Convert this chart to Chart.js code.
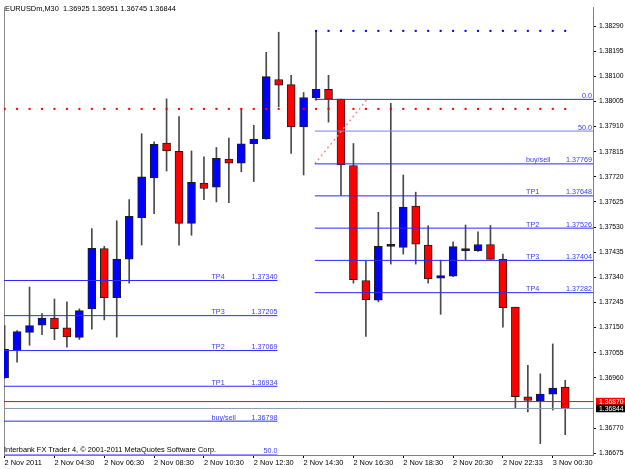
<!DOCTYPE html>
<html>
<head>
<meta charset="utf-8">
<script src="https://cdn.jsdelivr.net/npm/chart.js@4.4.1/dist/chart.umd.min.js"></script>
<style>
  html, body { margin: 0; padding: 0; background: #fff; }
</style>
</head>
<body>
<canvas id="chart" width="625" height="469"></canvas>
<script>
// EURUSDm M30 candles, one entry per bar
var opens  = [1.36960,1.37064,1.37132,1.37159,1.37186,1.37149,1.37113,1.37220,1.37449,1.37263,
              1.37409,1.37566,1.37716,1.37848,1.37816,1.37544,1.37696,1.37681,1.37787,1.37772,
              1.37845,1.37863,1.38088,1.38069,1.37909,1.38018,1.38051,1.38014,1.37763,1.37328,
              1.37254,1.37457,1.37453,1.37609,1.37462,1.37337,1.37344,1.37441,1.37441,1.37464,
              1.37408,1.37227,1.36888,1.36872,1.36898,1.36925];
var highs  = [1.37157,1.37139,1.37303,1.37203,1.37258,1.37247,1.37221,1.37524,1.37457,1.37554,
              1.37634,1.37883,1.37852,1.38015,1.37948,1.37818,1.37796,1.37831,1.37867,1.37978,
              1.37915,1.38191,1.38267,1.38104,1.38039,1.38272,1.38104,1.38014,1.37846,1.37401,
              1.37586,1.37998,1.37727,1.37662,1.37535,1.37405,1.37474,1.37538,1.37512,1.37536,
              1.37428,1.37227,1.37007,1.36975,1.37088,1.36951];
var lows   = [1.36958,1.37019,1.37083,1.37123,1.37104,1.37076,1.37105,1.37144,1.37179,1.37114,
              1.37318,1.37462,1.37581,1.37742,1.37462,1.37499,1.37634,1.37625,1.37622,1.37739,
              1.37702,1.37862,1.37985,1.37809,1.37727,1.38010,1.37927,1.37650,1.37318,1.37116,
              1.37247,1.37390,1.37428,1.37390,1.37318,1.37200,1.37342,1.37407,1.37438,1.37408,
              1.37151,1.36844,1.36831,1.36711,1.36838,1.36745];
var closes = [1.37068,1.37135,1.37157,1.37186,1.37146,1.37115,1.37214,1.37450,1.37263,1.37409,
              1.37571,1.37720,1.37843,1.37818,1.37544,1.37699,1.37676,1.37790,1.37772,1.37845,
              1.37863,1.38099,1.38067,1.37909,1.38020,1.38051,1.38013,1.37765,1.37331,1.37255,
              1.37457,1.37457,1.37606,1.37465,1.37334,1.37347,1.37456,1.37441,1.37464,1.37408,
              1.37225,1.36889,1.36874,1.36898,1.36921,1.36844];

var timeTickBars = [0,4,8,12,16,20,24,28,32,36,40,44];
var timeLabels = ["2 Nov 2011","2 Nov 04:30","2 Nov 06:30","2 Nov 08:30","2 Nov 10:30","2 Nov 12:30",
                  "2 Nov 14:30","2 Nov 16:30","2 Nov 18:30","2 Nov 20:30","2 Nov 22:33","3 Nov 00:30"];
var priceTicks = [1.38290,1.38195,1.38100,1.38005,1.37910,1.37815,1.37720,1.37625,1.37530,1.37435,
                  1.37340,1.37245,1.37150,1.37055,1.36960,1.36770,1.36675];

var askPrice = 1.36870;
var bidPrice = 1.36844;
var redDotLevel = 1.37977;
var blueDotLevel = 1.38272;
var blueDotFrom = 25;

// right fibo (0.0 / 50.0 / buy/sell / targets)
var fibRightLevels = [1.38013,1.37893,1.37769,1.37648,1.37526,1.37404,1.37282];
var fibRightNames  = ["","","buy/sell","TP1","TP2","TP3","TP4"];
var fibRightTexts  = ["0.0","50.0","1.37769","1.37648","1.37526","1.37404","1.37282"];
// left fibo
var fibLeftLevels = [1.37328,1.37195,1.37063,1.36928,1.36796,1.36669];
var fibLeftNames  = ["TP4","TP3","TP2","TP1","buy/sell",""];
var fibLeftTexts  = ["1.37340","1.37205","1.37069","1.36934","1.36798","50.0"];
var fibRightStart = 24.9, fibLeftEnd = 21.9;
var fibTrend = [{x:24.9, y:1.37769}, {x:29.1, y:1.38013}];

var titleText = "EURUSDm,M30  1.36925 1.36951 1.36745 1.36844";
var footText = "Interbank FX Trader 4, \u00a9 2001-2011 MetaQuotes Software Corp.";

var xMin = -0.05, xMax = 47.23;
var yMin = 1.36668, yMax = 1.38362;
var FONT = "Liberation Sans, Arial, sans-serif";

var barIdx = opens.map(function(o, i){ return i; });
var bodyColors = barIdx.map(function(i){
  if (closes[i] > opens[i]) return "#0000ff";
  if (closes[i] < opens[i]) return "#ff0000";
  return "#000000";
});

function levelLine(level, from, to, color, width, dash) {
  return {
    type: "line",
    data: [{x: from, y: level}, {x: to, y: level}],
    borderColor: color, borderWidth: width || 1, borderDash: dash || [],
    pointRadius: 0, order: 0
  };
}
function dotRow(level, from, color) {
  return {
    type: "line",
    data: barIdx.filter(function(i){ return i >= from; }).map(function(i){ return {x: i, y: level}; }),
    showLine: false, pointStyle: "rect", pointRadius: 1.45,
    pointBackgroundColor: color, pointBorderWidth: 0, order: 0
  };
}

var datasets = [];
fibRightLevels.forEach(function(lv, i){
  datasets.push(levelLine(lv, fibRightStart, xMax, i == 1 ? "#7a7aff" : "#2a2aff", 1));
});
fibLeftLevels.forEach(function(lv, i){
  datasets.push(levelLine(lv, xMin, fibLeftEnd, i == fibLeftLevels.length - 1 ? "#7a7aff" : "#2a2aff", 1));
});
datasets.push(levelLine(askPrice, xMin, xMax, "#ff0000", 1));
datasets.push(levelLine(bidPrice, xMin, xMax, "#8898ac", 1));
datasets.push({
  type: "line", data: fibTrend, borderColor: "#ff8c8c", borderWidth: 1.5,
  borderDash: [2, 3], pointRadius: 0, order: 0
});
datasets.push(dotRow(redDotLevel, 0, "#ff0000"));
datasets.push(dotRow(blueDotLevel, blueDotFrom, "#0000ff"));

// candle bodies then wicks (lower order is drawn on top)
datasets.push({
  type: "bar",
  data: barIdx.map(function(i){ return {x: i, y: [opens[i], closes[i]]}; }),
  backgroundColor: bodyColors, borderColor: "#1e1e1e", borderWidth: 1,
  borderSkipped: false, barThickness: 8, minBarLength: 2, grouped: false, order: 1
});
datasets.push({
  type: "bar",
  data: barIdx.map(function(i){ return {x: i, y: [lows[i], highs[i]]}; }),
  backgroundColor: "#4a4a4a", borderWidth: 0, barThickness: 1, grouped: false, order: 2
});

var textPlugin = {
  id: "textPlugin",
  afterDraw: function(chart){
    var ctx = chart.ctx, xs = chart.scales.x, ys = chart.scales.y, area = chart.chartArea;
    ctx.save();
    ctx.textBaseline = "alphabetic";
    ctx.font = "7.4px " + FONT;
    ctx.fillStyle = "#000";
    ctx.textAlign = "left";
    ctx.fillText(titleText, 5, 11);
    ctx.fillText(footText, 4, 452);

    ctx.font = "7.2px " + FONT;
    ctx.fillStyle = "#3a3aff";
    var rEnd = area.right - 1;
    fibRightLevels.forEach(function(lv, i){
      var y = ys.getPixelForValue(lv) - 1.5;
      ctx.textAlign = "right";
      ctx.fillText(fibRightTexts[i], rEnd, y);
      if (fibRightNames[i]) {
        ctx.textAlign = "left";
        ctx.fillText(fibRightNames[i], rEnd - 66, y);
      }
    });
    var lEnd = xs.getPixelForValue(fibLeftEnd);
    fibLeftLevels.forEach(function(lv, i){
      var y = Math.min(ys.getPixelForValue(lv) - 1.5, area.bottom - 2.5);
      ctx.textAlign = "right";
      ctx.fillText(fibLeftTexts[i], lEnd, y);
      if (fibLeftNames[i]) {
        ctx.textAlign = "left";
        ctx.fillText(fibLeftNames[i], lEnd - 66, y);
      }
    });

    // price boxes on the axis
    ctx.font = "6.8px " + FONT;
    ctx.textAlign = "left";
    ctx.textBaseline = "middle";
    [[askPrice, "#ff0000"], [bidPrice, "#000000"]].forEach(function(p){
      var y = ys.getPixelForValue(p[0]);
      ctx.fillStyle = p[1];
      ctx.fillRect(area.right + 3, y - 3.8, chart.width - area.right - 3, 7.6);
      ctx.fillStyle = "#fff";
      ctx.fillText(p[0].toFixed(5), area.right + 6, y + 0.3);
    });
    ctx.restore();
  }
};

new Chart(document.getElementById("chart"), {
  type: "bar",
  data: { datasets: datasets },
  options: {
    responsive: false,
    animation: false,
    devicePixelRatio: 1,
    layout: { padding: { top: 2, left: 0, right: 0, bottom: 0 } },
    plugins: { legend: { display: false }, tooltip: { enabled: false } },
    scales: {
      x: {
        type: "linear", min: xMin, max: xMax, offset: false,
        afterBuildTicks: function(axis){ axis.ticks = timeTickBars.map(function(v){ return {value: v}; }); },
        afterFit: function(axis){ axis.height = 14; },
        ticks: {
          align: "start", padding: 1, maxRotation: 0, autoSkip: false, color: "#000",
          font: { family: FONT, size: 7.4 },
          callback: function(v, i){ return timeLabels[i]; }
        },
        grid: { drawOnChartArea: false, drawTicks: true, tickLength: 3, color: "#000", offset: false },
        border: { color: "#808080" }
      },
      y: {
        position: "right", min: yMin, max: yMax,
        afterBuildTicks: function(axis){ axis.ticks = priceTicks.map(function(v){ return {value: v}; }); },
        afterFit: function(axis){ axis.width = 32; },
        ticks: {
          padding: 3, autoSkip: false, color: "#000",
          font: { family: FONT, size: 6.8 },
          callback: function(v){ return v.toFixed(5); }
        },
        grid: { drawOnChartArea: false, drawTicks: true, tickLength: 3, color: "#000" },
        border: { color: "#808080" }
      },
      yL: {
        position: "left", min: yMin, max: yMax,
        afterFit: function(axis){ axis.width = 2; },
        ticks: { display: false },
        grid: { drawOnChartArea: false, drawTicks: false },
        border: { color: "#8c8c8c" }
      }
    }
  },
  plugins: [textPlugin]
});
</script>
</body>
</html>
